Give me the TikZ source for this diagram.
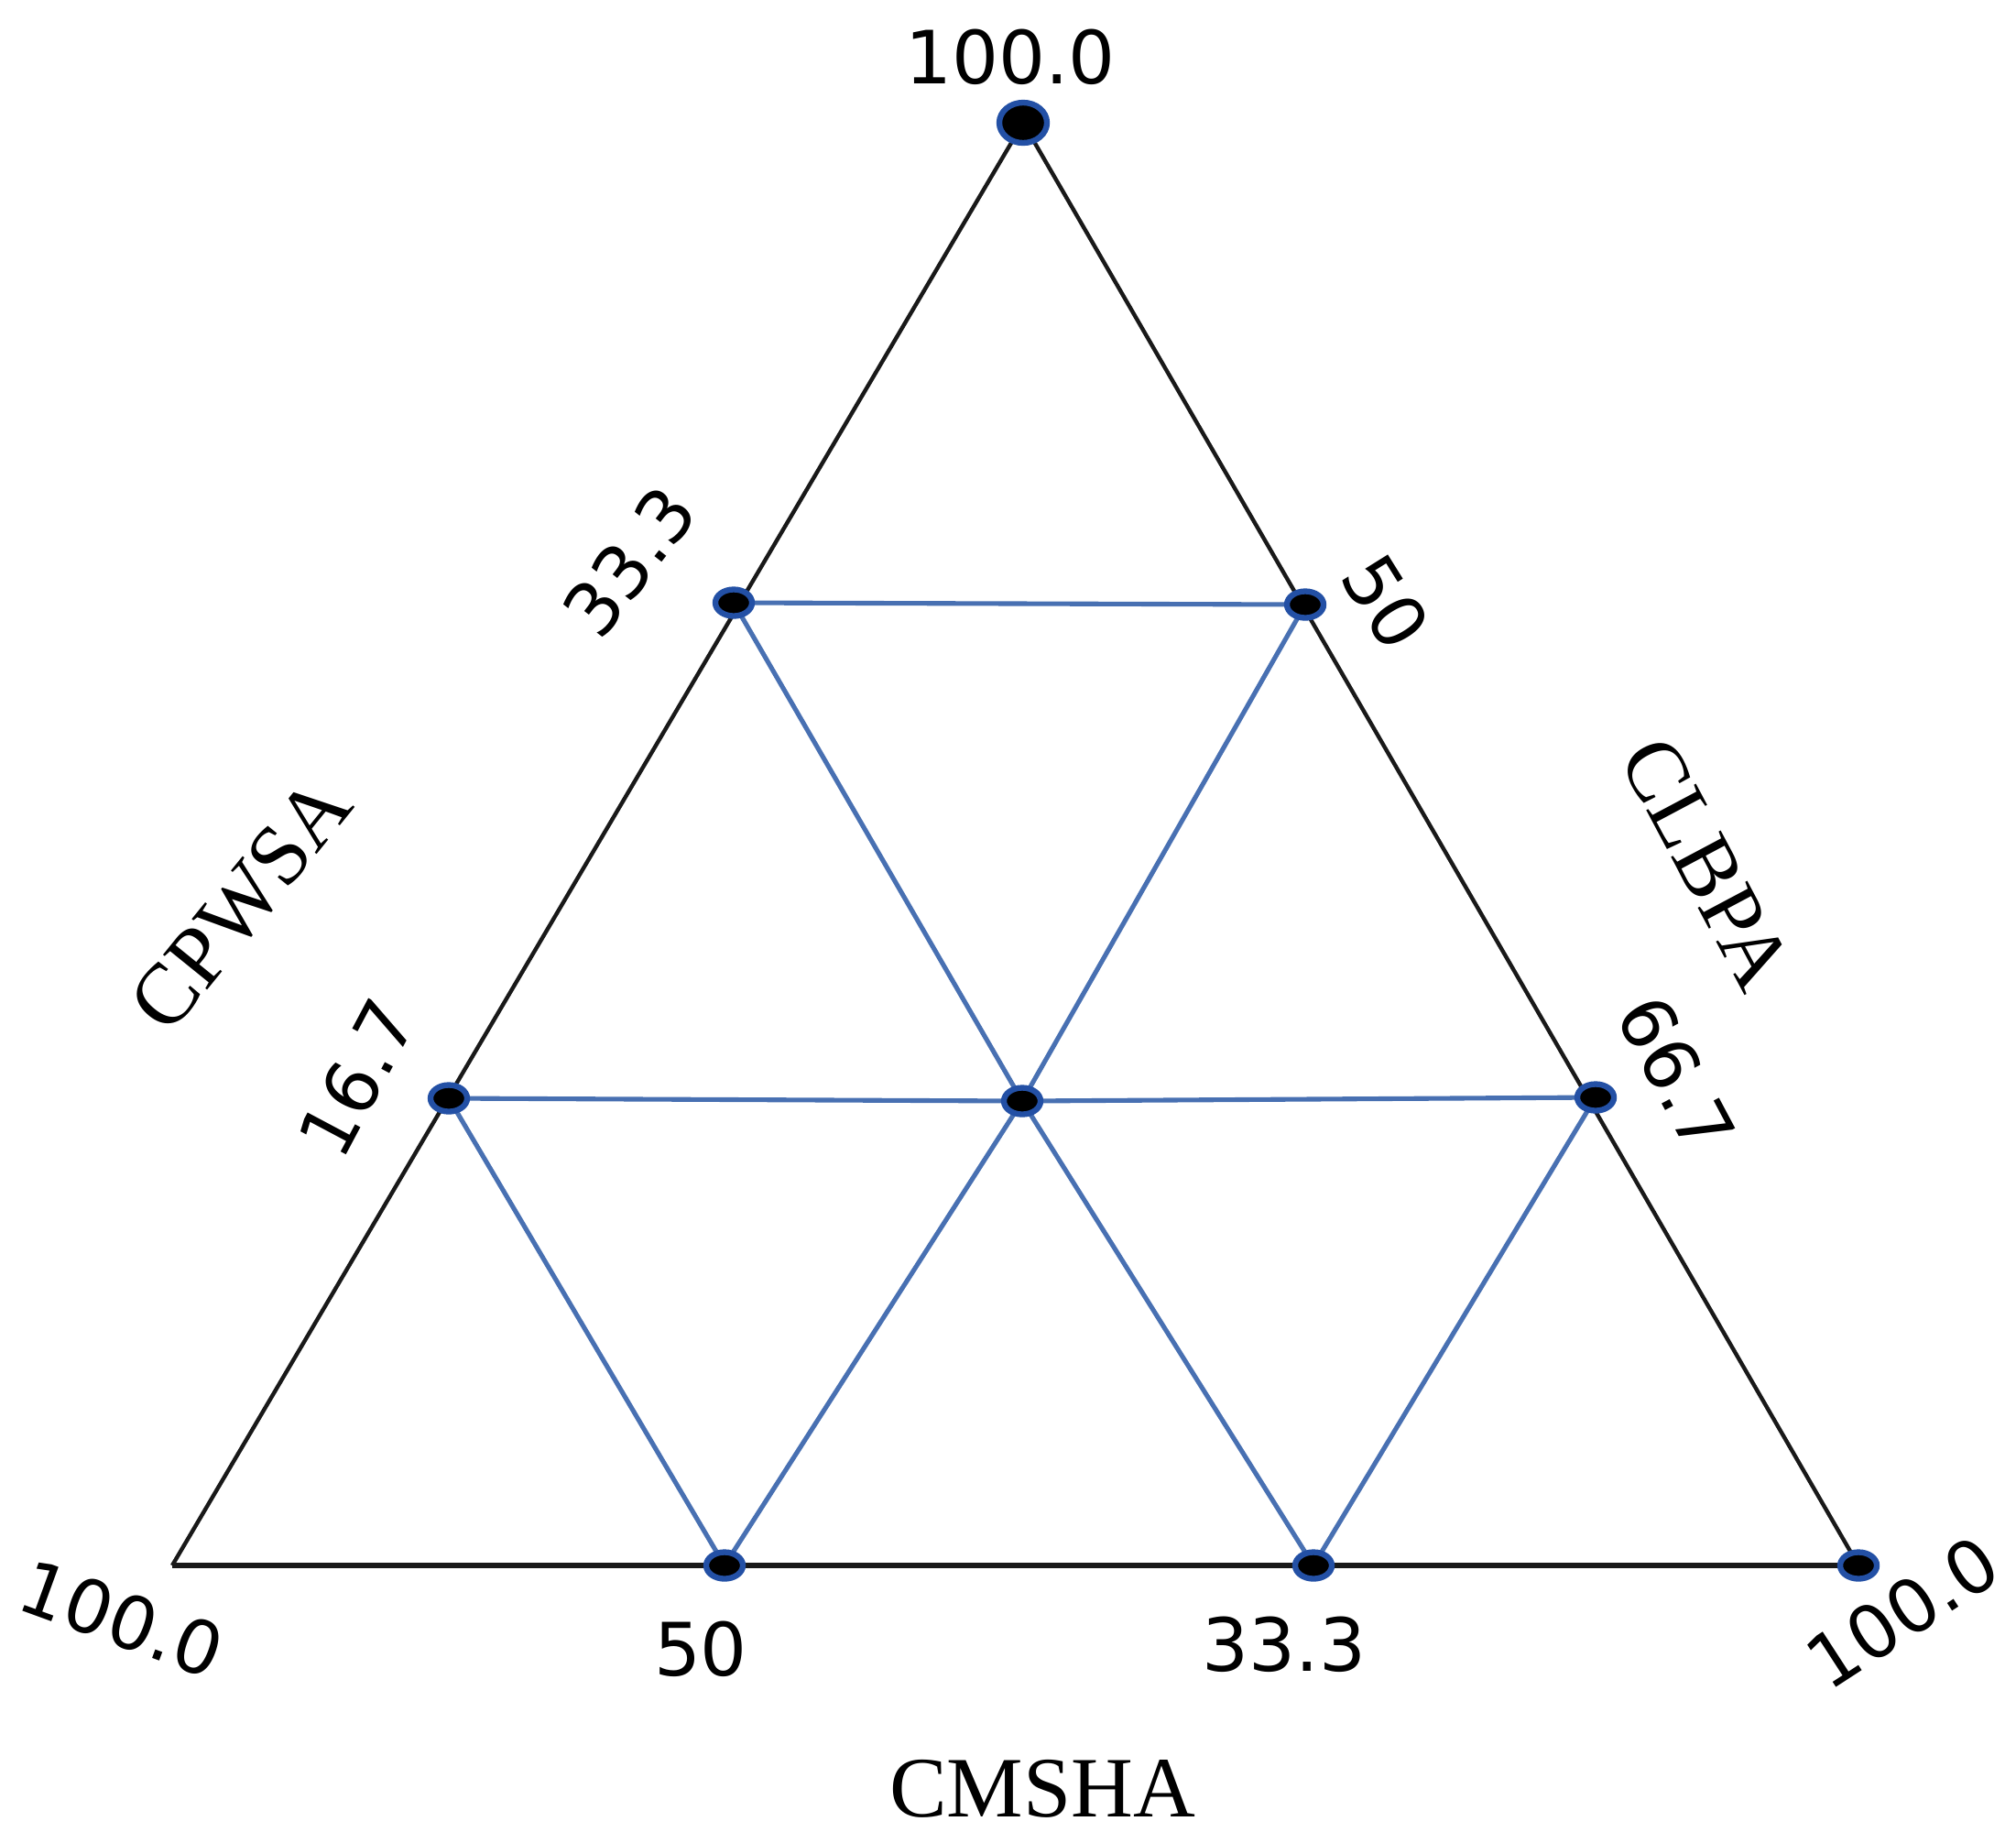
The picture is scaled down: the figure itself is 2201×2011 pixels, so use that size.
\documentclass[tikz,border=0pt]{standalone}
\usepackage{fontspec}
\newfontfamily\numfont{DejaVu Sans}
\newfontfamily\titlefont{Liberation Serif}
\usetikzlibrary{shapes.geometric}
\definecolor{edgeblack}{RGB}{25,25,25}
\definecolor{gridblue}{RGB}{72,112,178}
\definecolor{dotblue}{RGB}{35,80,165}
\begin{document}
\begin{tikzpicture}[x=0.01cm,y=-0.01cm,
  sideline/.style={draw=edgeblack, line width=1.25pt},
  baseline/.style={draw=edgeblack, line width=1.7pt},
  gridline/.style={draw=gridblue, line width=1.45pt},
  dotnode/.style={ellipse, fill=black, draw=dotblue, line width=1.8pt, minimum width=0.40cm, minimum height=0.29cm, inner sep=0pt},
  bigdot/.style={dotnode, minimum width=0.52cm, minimum height=0.44cm},
  num/.style={font=\numfont\fontsize{22.8}{26}\selectfont, text=black, inner sep=0pt},
  ttl/.style={font=\titlefont\fontsize{26.7}{30}\selectfont, text=black, inner sep=0pt}]
\useasboundingbox (0,0) rectangle (2201,2011);
\fill[white] (0,0) rectangle (2201,2011);

% corner and grid points
\coordinate (T) at (1117,134);
\coordinate (L) at (188,1709);
\coordinate (R) at (2029,1709);
\coordinate (A) at (801,658);
\coordinate (B) at (1425,660);
\coordinate (C) at (490,1199);
\coordinate (D) at (1116,1202);
\coordinate (E) at (1742,1198);
\coordinate (F) at (791,1709);
\coordinate (G) at (1434,1709);

% triangle
\draw[sideline] (L) -- (T) -- (R);
\draw[baseline] (L) -- (R);

% grid
\draw[gridline] (A) -- (B);
\draw[gridline] (C) -- (D) -- (E);
\draw[gridline] (A) -- (D) -- (G);
\draw[gridline] (B) -- (D) -- (F);
\draw[gridline] (C) -- (F);
\draw[gridline] (E) -- (G);

% dots
\node[bigdot] (nT) at (T) {};
\node[dotnode] (nR) at (R) {};
\node[dotnode] (nA) at (A) {};
\node[dotnode] (nB) at (B) {};
\node[dotnode] (nC) at (C) {};
\node[dotnode] (nD) at (D) {};
\node[dotnode] (nE) at (E) {};
\node[dotnode] (nF) at (F) {};
\node[dotnode] (nG) at (G) {};

% value labels
\node[num] (lt) at (1103,62) {100.0};
\node[num, rotate=-20] (lbl) at (133,1767) {100.0};
\node[num, rotate=33] (lbr) at (2077,1760) {100.0};
\node[num, rotate=52] (l33) at (687,613) {33.3};
\node[num, rotate=62] (l16) at (390,1177) {16.7};
\node[num, rotate=-58] (l50r) at (1513,657) {50};
\node[num, rotate=-62] (l66) at (1830,1173) {66.7};
\node[num] (l50b) at (765,1800) {50};
\node[num] (l33b) at (1402,1795) {33.3};

% axis titles
\node[ttl] (cmsha) at (1138,1953) {CMSHA};
\node[ttl, rotate=51] (cpwsa) at (263,987) {CPWSA};
\node[ttl, rotate=-62] (clbpa) at (1863,943) {CLBPA};
\end{tikzpicture}
\end{document}
